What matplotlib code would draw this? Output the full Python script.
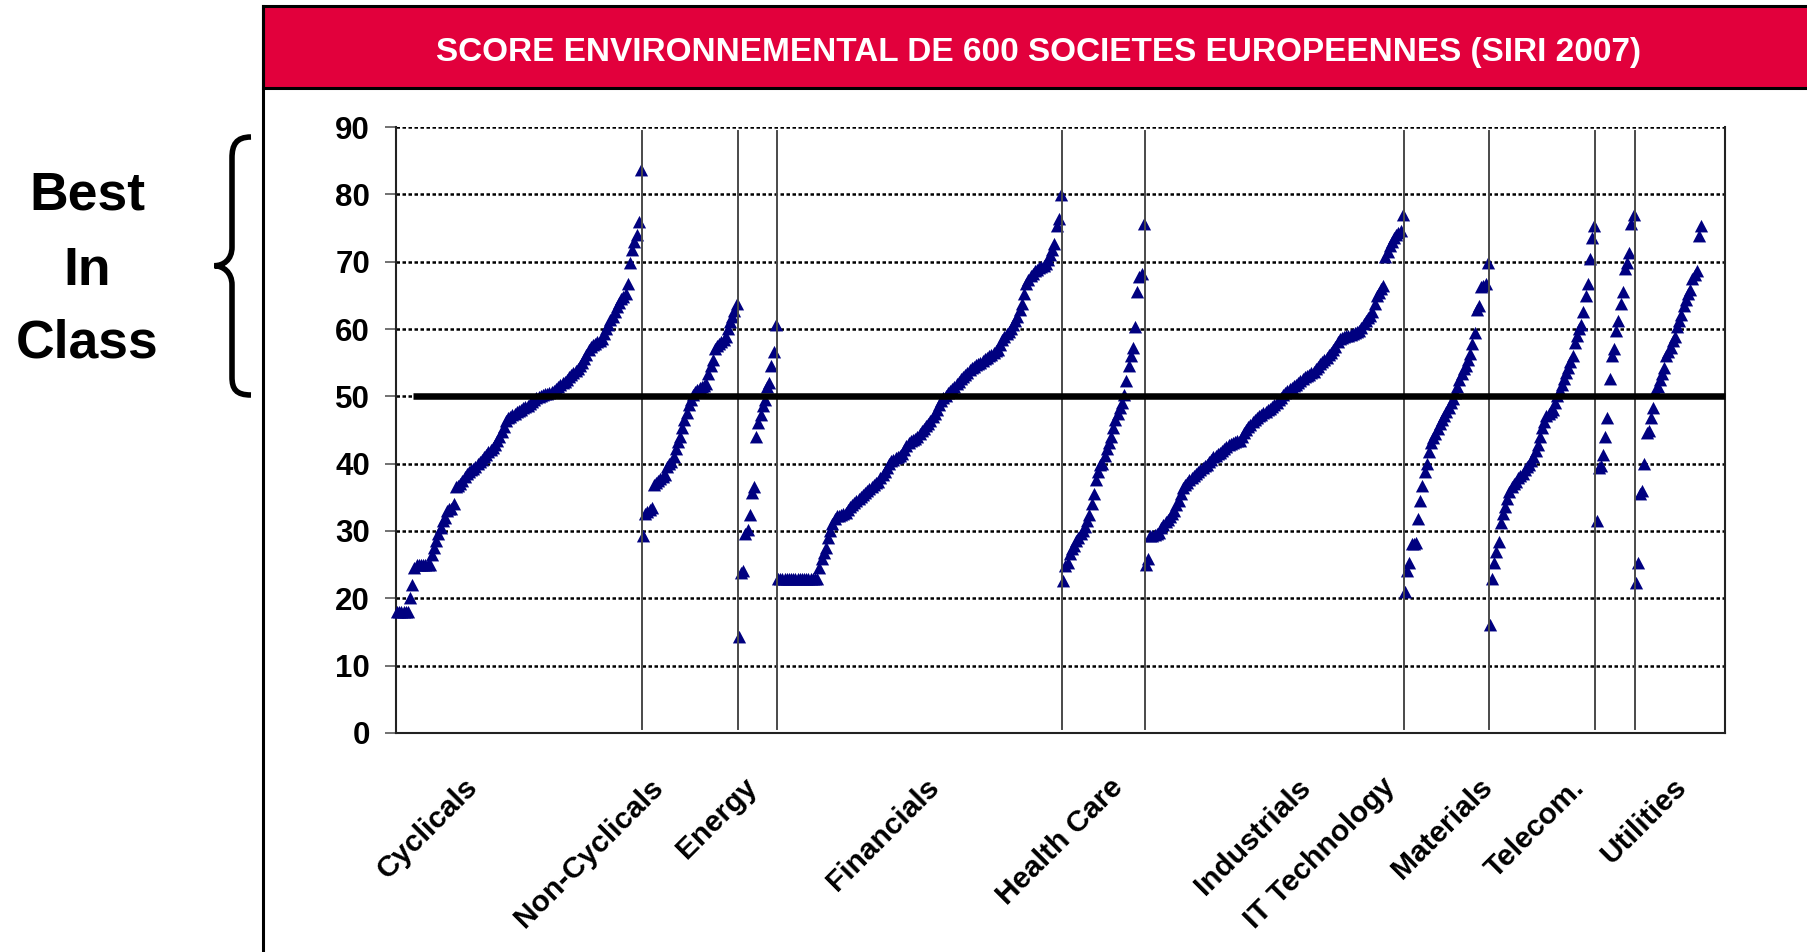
import matplotlib
matplotlib.use("Agg")
import matplotlib.pyplot as plt
from matplotlib.path import Path
from matplotlib.patches import PathPatch, Rectangle
from matplotlib.lines import Line2D
from matplotlib.transforms import Affine2D
import numpy as np

plt.rcParams['font.family'] = ['Liberation Sans', 'DejaVu Sans']

# ---------------- data ----------------
sectors = ['Cyclicals', 'Non-Cyclicals', 'Energy', 'Financials', 'Health Care',
           'Industrials', 'IT Technology', 'Materials', 'Telecom.', 'Utilities']

cyclicals = [18.0, 18.0, 18.0, 18.0, 18.0, 18.0, 20.0, 22.0, 24.5, 25.0,
             25.0, 25.0, 25.0, 25.0, 25.0, 25.0, 26.5, 27.5, 28.5, 29.5,
             30.5, 31.5, 32.0, 33.0, 33.3, 33.3, 34.0, 36.5, 36.7, 37.0,
             37.5, 38.0, 38.5, 38.8, 39.0, 39.2, 39.5, 40.0, 40.3, 40.6,
             41.0, 41.3, 41.7, 42.0, 42.3, 42.8, 43.3, 44.0, 44.7, 45.5,
             46.3, 46.8, 47.0, 47.2, 47.4, 47.6, 47.8, 48.0, 48.2, 48.4,
             48.6, 48.9, 49.2, 49.5, 49.7, 49.9, 50.1, 50.2, 50.3, 50.4,
             50.5, 50.6, 50.8, 51.1, 51.4, 51.7, 52.0, 52.2, 52.5, 52.8,
             53.1, 53.4, 53.7, 54.1, 54.5, 55.0, 55.6, 56.2, 56.9, 57.3,
             57.6, 57.8, 58.0, 58.2, 58.5, 59.3, 60.0, 60.6, 61.3, 61.8,
             62.5, 63.3, 63.9, 64.4, 64.8, 65.2, 66.7, 69.8, 71.7, 72.9,
             74.0, 75.9, 83.6]

non_cyclicals = [29.3, 32.5, 32.8, 33.1, 33.4, 36.8, 37.1, 37.4, 37.7, 38.0,
                 38.3, 39.5, 40.0, 40.3, 41.0, 42.2, 43.2, 44.0, 45.3, 46.5,
                 47.5, 48.7, 49.5, 50.2, 50.6, 51.0, 51.2, 51.4, 51.6, 51.8,
                 53.3, 54.5, 55.4, 57.0, 57.5, 57.8, 58.1, 58.4, 58.8, 60.0,
                 61.0, 61.8, 62.6, 63.7]

energy = [14.3, 23.8, 24.0, 29.6, 30.2, 32.4, 35.6, 36.5, 44.0, 46.0,
          47.2, 48.6, 49.5, 51.4, 52.0, 54.5, 56.6, 60.6]

financials = [22.9, 22.9, 22.9, 22.9, 22.9, 22.9, 22.9, 22.9, 22.9, 22.9,
              22.9, 22.9, 22.9, 22.9, 22.9, 22.9, 22.9, 22.9, 22.9,
              24.5, 25.8, 26.8, 27.5, 29.0, 30.0, 31.0, 31.8, 32.2, 32.3,
              32.4, 32.5, 32.6, 33.1, 33.5, 33.8, 34.1, 34.4, 34.8, 35.1,
              35.4, 35.7, 36.0, 36.2, 36.5, 36.8, 37.1, 37.3, 37.8, 38.3,
              38.8, 39.3, 39.9, 40.4, 40.6, 40.8, 41.0, 41.2, 41.4, 42.0,
              42.6, 43.1, 43.3, 43.5, 43.7, 44.0, 44.4, 44.8, 45.2, 45.6,
              45.9, 46.4, 46.9, 47.4, 48.0, 48.7, 49.3, 49.7, 50.1, 50.5,
              50.8, 51.1, 51.4, 51.8, 52.2, 52.6, 52.9, 53.2, 53.5, 53.9,
              54.2, 54.4, 54.6, 54.8, 55.0, 55.2, 55.5, 55.7, 56.0, 56.2,
              56.4, 56.7, 56.9, 57.6, 58.3, 58.8, 59.2, 59.6, 60.0, 60.6,
              61.2, 61.8, 62.8, 63.7, 65.2, 66.7, 67.3, 67.8, 68.2, 68.6,
              68.8, 69.0, 69.2, 69.4, 69.6, 70.3, 71.0, 71.8, 72.6, 75.3,
              76.3, 79.9]

health_care = [22.6, 24.8, 25.2, 26.6, 27.4, 27.8, 28.5, 29.0, 29.5, 30.0,
               30.6, 31.5, 32.4, 34.0, 35.5, 37.6, 38.8, 39.8, 40.0, 41.2,
               42.2, 43.0, 44.0, 45.3, 46.5, 47.4, 48.3, 49.0, 50.2, 52.3,
               54.5, 56.0, 57.2, 60.3, 65.5, 67.7, 68.2, 75.6]

industrials = [25.0, 25.8, 29.2, 29.3, 29.4, 29.5, 29.7, 30.4, 30.9, 31.3,
               31.7, 32.1, 32.5, 33.0, 33.8, 34.5, 35.5, 36.4, 36.8, 37.2,
               37.6, 37.9, 38.2, 38.5, 38.8, 39.1, 39.3, 39.6, 39.8, 40.2,
               40.6, 41.0, 41.2, 41.4, 41.6, 41.9, 42.2, 42.5, 42.8, 42.9,
               43.0, 43.2, 43.3, 43.4, 43.9, 44.5, 45.0, 45.4, 45.8, 46.2,
               46.5, 46.8, 47.1, 47.3, 47.5, 47.7, 47.9, 48.1, 48.4, 48.7,
               49.0, 49.4, 49.8, 50.2, 50.5, 50.8, 51.1, 51.3, 51.5, 51.7,
               52.0, 52.3, 52.6, 52.8, 53.0, 53.2, 53.4, 53.6, 54.0, 54.4,
               54.8, 55.1, 55.4, 55.7, 56.1, 56.5, 56.9, 57.4, 58.0, 58.5,
               58.6, 58.8, 58.9, 59.0, 59.1, 59.2, 59.4, 59.5, 59.7, 60.2,
               60.7, 61.2, 61.6, 62.0, 62.5, 63.7, 64.9, 65.4, 65.9, 66.4,
               70.7, 71.5, 72.3, 72.9, 73.5, 73.9, 74.2, 74.5, 76.9]

it_technology = [21.0, 24.1, 25.3, 28.0, 28.1, 28.2, 31.8, 34.5, 36.7, 38.8,
                 40.0, 41.8, 43.1, 43.8, 44.4, 45.2, 45.9, 46.5, 47.1, 47.7,
                 48.3, 49.0, 49.6, 50.5, 51.4, 52.4, 53.3, 54.0, 54.5, 55.4,
                 56.3, 57.8, 59.4, 62.8, 63.4, 66.2, 66.4, 66.7, 69.8]

materials = [16.1, 22.9, 25.3, 26.9, 28.4, 31.2, 32.5, 33.6, 34.8, 35.8,
             36.5, 37.0, 37.3, 37.8, 38.2, 38.5, 39.0, 39.5, 39.8, 40.4,
             41.0, 41.9, 42.8, 43.9, 45.3, 46.2, 47.1, 47.4, 47.7, 48.0,
             49.0, 50.0, 50.8, 51.7, 52.6, 53.4, 54.2, 55.1, 56.0, 57.9,
             59.0, 60.0, 60.6, 62.5, 64.9, 66.7, 70.4, 73.5, 75.3]

telecom = [31.5, 39.3, 39.6, 41.3, 44.0, 46.8, 52.6, 56.0, 57.0, 59.7,
           61.2, 63.7, 65.5, 68.9, 69.8, 71.3, 75.6, 76.9]

utilities = [22.3, 25.3, 35.5, 36.0, 40.0, 44.5, 44.8, 46.8, 48.3, 50.8,
             51.4, 52.5, 53.3, 54.2, 56.0, 56.6, 57.2, 58.2, 58.8, 60.3,
             61.2, 62.1, 63.4, 64.3, 65.2, 65.8, 67.4, 68.0, 68.6, 73.8,
             75.3]

scores = [cyclicals, non_cyclicals, energy, financials, health_care,
          industrials, it_technology, materials, telecom, utilities]

y_ticks = [0, 10, 20, 30, 40, 50, 60, 70, 80, 90]
threshold = 50
title = "SCORE ENVIRONNEMENTAL DE 600 SOCIETES EUROPEENNES (SIRI 2007)"

# layout: label anchor positions (x in company-rank units)
label_pos = [30.5, 115.5, 159, 242.5, 327, 413, 452, 496.5, 539, 585.5]

# ---------------- figure ----------------
W, H = 1807, 952
fig = plt.figure(figsize=(W / 100, H / 100), dpi=100)
fig.patch.set_facecolor('white')
px = Affine2D().scale(1 / W, -1 / H).translate(0, 1) + fig.transFigure

# frame: title bar + left border
fig.patches.append(Rectangle((263, 6), 1600, 82, transform=px, facecolor='#E2003C',
                             edgecolor='black', linewidth=2.2, zorder=1))
fig.lines.append(Line2D([263, 263], [6, 960], transform=px, color='black', linewidth=2.2))
fig.text(1039, 61, title, transform=px, color='white', fontsize=24, fontweight='bold',
         ha='center', va='baseline')

# Best In Class
for word, yb in zip(['Best', 'In', 'Class'], [210, 285, 358]):
    fig.text(87, yb, word, transform=px, fontsize=38.5, fontweight='bold',
             ha='center', va='baseline', color='black')

# curly brace
verts = [(251, 137), (236, 137), (232, 145), (232, 158),
         (232, 247),
         (232, 260), (223, 265.7), (214.5, 265.7),
         (223, 266), (232, 272), (232, 285),
         (232, 377),
         (232, 389), (236, 395), (251, 395)]
codes = [Path.MOVETO, Path.CURVE4, Path.CURVE4, Path.CURVE4,
         Path.LINETO,
         Path.CURVE4, Path.CURVE4, Path.CURVE4,
         Path.CURVE4, Path.CURVE4, Path.CURVE4,
         Path.LINETO,
         Path.CURVE4, Path.CURVE4, Path.CURVE4]
fig.patches.append(PathPatch(Path(verts, codes), transform=px, facecolor='none',
                             edgecolor='black', linewidth=4.0, capstyle='butt'))

# axes
ax = fig.add_axes([396.4 / W, 1 - 733 / H, (1725 - 396.4) / W, (733 - 127) / H])
ax.set_xlim(-0.3, 610)
ax.set_ylim(0, 90)

for y in y_ticks[1:]:
    ax.axhline(y, color='black', linewidth=1.8, linestyle=(0, (1.4, 1.0)), zorder=1)

tri = [(-1, -0.9), (1, -0.9), (0, 1)]
start = 0
bounds = []
for vals in scores:
    x = np.arange(start, start + len(vals))
    ax.plot(x, vals, linestyle='none', marker=tri, markersize=9.5,
            color='#000080', markeredgewidth=0, clip_on=False, zorder=3)
    start += len(vals)
    bounds.append(start - 0.5)

for b in bounds[:-1]:
    ax.plot([b, b], [0.6, 89.4], color='#4a4a4a', linewidth=1.4, zorder=4)

ax.plot([7.5, 610], [threshold, threshold], color='black', linewidth=4.7,
        solid_capstyle='butt', zorder=5, clip_on=False)

for s in ['left', 'bottom', 'right']:
    ax.spines[s].set_color('#222222')
    ax.spines[s].set_linewidth(1.5)
ax.spines['top'].set_visible(False)

ax.set_xticks([])
ax.set_yticks(y_ticks)
ax.set_yticklabels([str(v) for v in y_ticks], fontsize=22.5, fontweight='bold')
ax.tick_params(axis='y', direction='out', length=8, width=1.3, color='#666666', pad=11)

for name, xp in zip(sectors, label_pos):
    ax.text(xp, -0.066, name, transform=ax.get_xaxis_transform(), rotation=45,
            rotation_mode='anchor', ha='right', va='top', fontsize=21.5,
            fontweight='bold', color='black')

fig.savefig('out.png', dpi=100, facecolor='white')
